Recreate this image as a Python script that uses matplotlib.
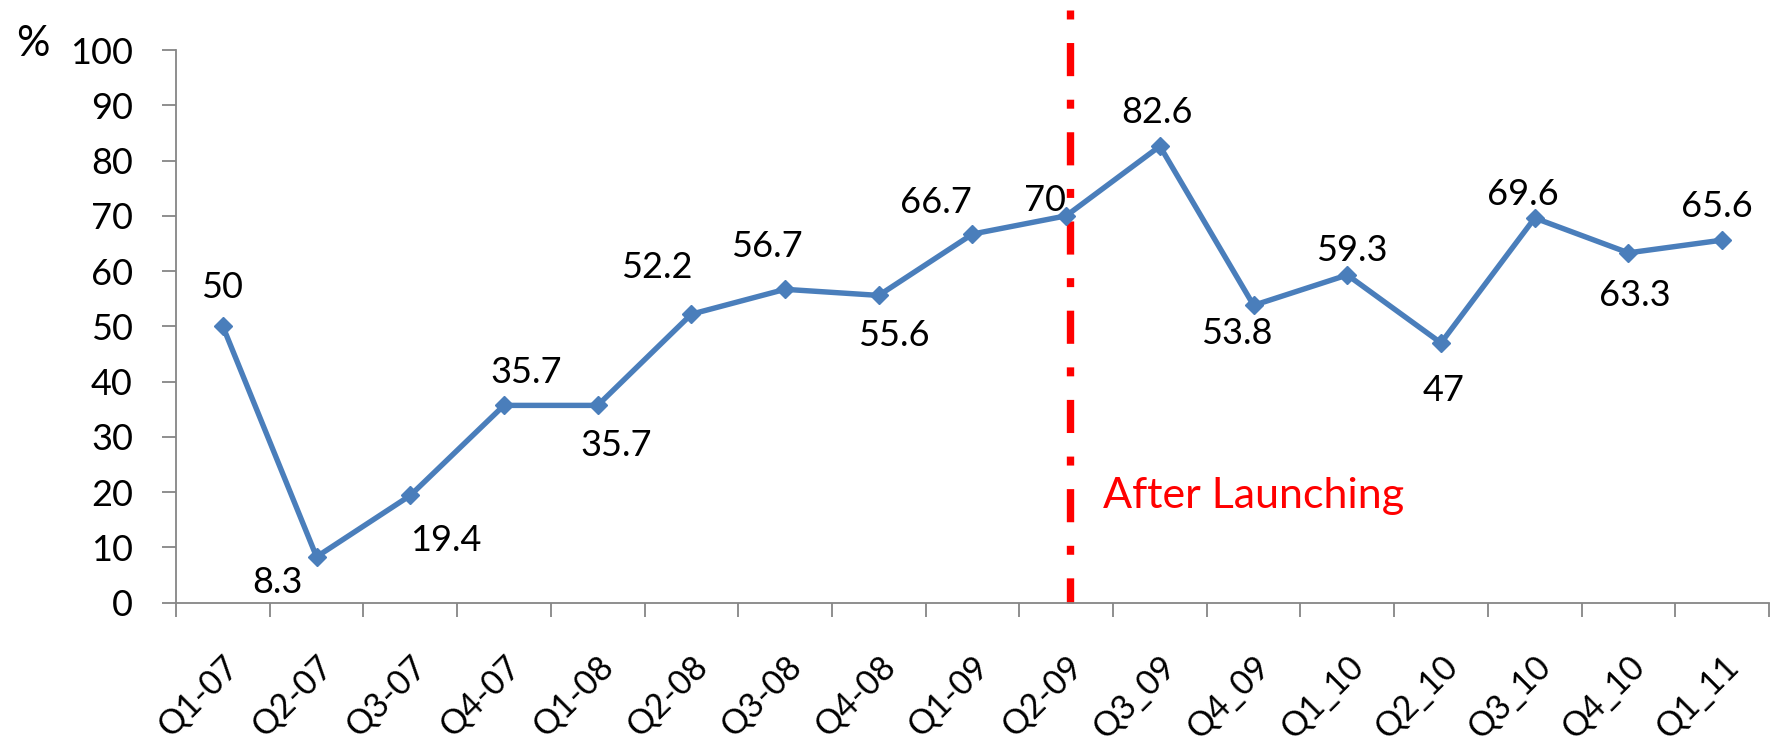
import matplotlib
matplotlib.use("Agg")
import matplotlib.pyplot as plt
from matplotlib.ticker import FixedLocator, NullFormatter

# Quarterly share (%) before and after the launch
quarters = ["Q1-07", "Q2-07", "Q3-07", "Q4-07", "Q1-08", "Q2-08", "Q3-08", "Q4-08",
            "Q1-09", "Q2-09", "Q3_09", "Q4_09", "Q1_10", "Q2_10", "Q3_10", "Q4_10", "Q1_11"]
share = [50, 8.3, 19.4, 35.7, 35.7, 52.2, 56.7, 55.6, 66.7, 70, 82.6, 53.8, 59.3,
         47, 69.6, 63.3, 65.6]
y_ticks = [0, 10, 20, 30, 40, 50, 60, 70, 80, 90, 100]
launch_pos = 9.04
launch_text = "After Launching"

# label placement around each point, in pixels (dx, dy)
label_offsets = [(-1, 28), (-39, -36), (35, -56), (22, 22), (18, -51), (-35, 36),
                 (-18, 32), (15, -51), (-37, 21), (-21, 5), (-3, 23), (-17, -39),
                 (4, 14), (3, -58), (-12, 13), (6, -53), (-5, 23)]

plt.rcParams["font.family"] = ["Lato", "DejaVu Sans"]
FS = 26
AXIS_GRAY = "#868686"
LINE_BLUE = "#4a7ebb"

fig = plt.figure(figsize=(17.77, 7.48), dpi=100)
ax = fig.add_axes([0.09904, 0.19425, 0.89645, 0.73890])

x = list(range(len(quarters)))
ax.plot(x, share, color=LINE_BLUE, lw=3.9, marker="D", ms=9.5,
        mfc=LINE_BLUE, mec=LINE_BLUE, mew=1, zorder=3, clip_on=False)

for xi, v, (dx, dy) in zip(x, share, label_offsets):
    ax.annotate(f"{v:g}", (xi, v), xytext=(dx, dy), textcoords="offset pixels",
                ha="center", va="baseline", fontsize=FS, color="black", zorder=4)

# launch marker line, drawn from the top down to the axis
ax.plot([launch_pos, launch_pos], [107.2, 0], color="red", lw=5.3,
        linestyle=(0, (1.22, 3.2, 4.5, 3.2)), solid_capstyle="butt",
        dash_capstyle="butt", clip_on=False, zorder=2)
ax.text(9.39, 17.08, launch_text, color="red", fontsize=31, ha="left",
        va="baseline")

ax.set_xlim(-0.5, len(quarters) - 0.5)
ax.set_ylim(0, 100)

ax.spines["top"].set_visible(False)
ax.spines["right"].set_visible(False)
for s in ("left", "bottom"):
    ax.spines[s].set_color(AXIS_GRAY)
    ax.spines[s].set_linewidth(1.3)

ax.set_yticks(y_ticks)
ax.set_yticklabels([str(t) for t in y_ticks])
ax.tick_params(axis="y", direction="out", length=10, width=1.3, color=AXIS_GRAY,
               pad=21, labelsize=FS)

# category boundaries carry the tick marks, centres carry the labels
ax.xaxis.set_major_locator(FixedLocator([i - 0.5 for i in range(len(quarters) + 1)]))
ax.xaxis.set_major_formatter(NullFormatter())
ax.xaxis.set_minor_locator(FixedLocator(x))
ax.set_xticklabels(quarters, minor=True)
ax.tick_params(axis="x", which="major", direction="out", length=10, width=1.3,
               color=AXIS_GRAY)
ax.tick_params(axis="x", which="minor", length=0, pad=34, labelsize=24.5)
for lab in ax.get_xticklabels(minor=True):
    lab.set_rotation(45)
    lab.set_ha("right")
    lab.set_va("top")
    lab.set_rotation_mode("anchor")

fig.text(32.5 / 1777, 1 - 44.5 / 748, "%", fontsize=30, ha="center", va="center")

fig.savefig("out.png", dpi=100, facecolor="white")
